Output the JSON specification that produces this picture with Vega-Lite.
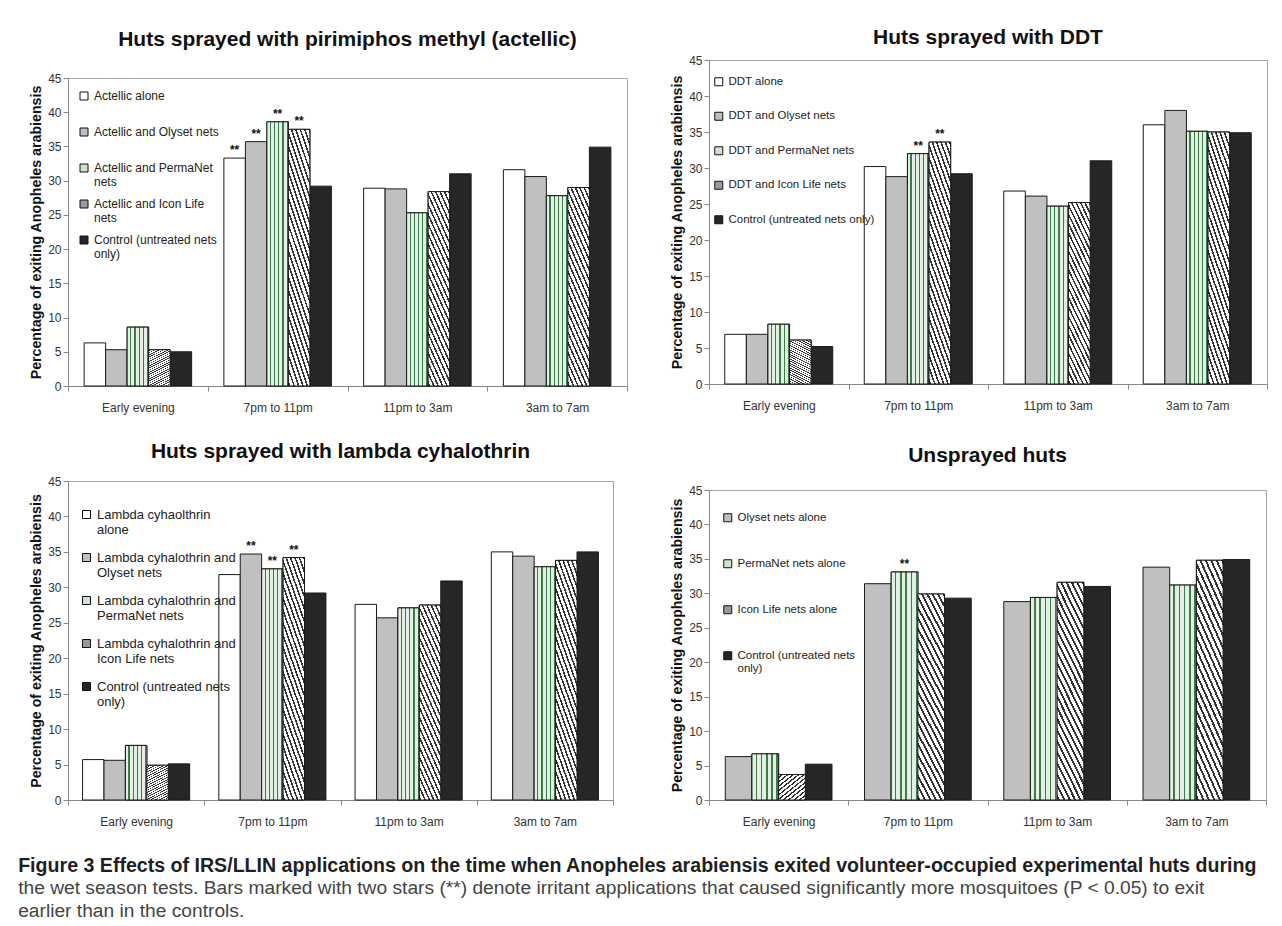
{
  "$schema": "https://vega.github.io/schema/vega-lite/v6.json",
  "padding": {"left": 18, "top": 26, "right": 4, "bottom": 2},
  "background": "white",
  "config": {
    "font": "Liberation Sans",
    "view": {"stroke": "#a6a6a6", "strokeWidth": 1},
    "title": {"fontSize": 21, "fontWeight": "bold", "color": "#111111", "anchor": "middle"},
    "axis": {"grid": false, "domainColor": "#888888", "tickColor": "#888888", "tickSize": 5, "labelColor": "#333333", "labelFontSize": 12, "titleFontSize": 14.2, "titleColor": "#111111", "titleFontWeight": "bold"},
    "axisY": {"labelPadding": 2, "titlePadding": 4},
    "axisX": {"labelPadding": 11, "labelAngle": 0},
    "legend": {"padding": 0, "symbolType": "square", "symbolSize": 64, "symbolStrokeColor": "#111111", "symbolStrokeWidth": 1, "labelFontSize": 12, "labelColor": "#222222", "labelOffset": 4, "labelLimit": 400, "gridAlign": "all"},
    "bar": {"stroke": "#1a1a1a", "strokeWidth": 1}
  },
  "datasets": {
    "p1": [
      {"period": "Early evening", "treatment": "Actellic alone", "pct": 6.3},
      {"period": "Early evening", "treatment": "Actellic and Olyset nets", "pct": 5.3},
      {"period": "Early evening", "treatment": "Actellic and PermaNet nets", "pct": 8.6},
      {"period": "Early evening", "treatment": "Actellic and Icon Life nets", "pct": 5.3},
      {"period": "Early evening", "treatment": "Control (untreated nets only)", "pct": 5.0},
      {"period": "7pm to 11pm", "treatment": "Actellic alone", "pct": 33.3, "sig": "**"},
      {"period": "7pm to 11pm", "treatment": "Actellic and Olyset nets", "pct": 35.7, "sig": "**"},
      {"period": "7pm to 11pm", "treatment": "Actellic and PermaNet nets", "pct": 38.6, "sig": "**"},
      {"period": "7pm to 11pm", "treatment": "Actellic and Icon Life nets", "pct": 37.5, "sig": "**"},
      {"period": "7pm to 11pm", "treatment": "Control (untreated nets only)", "pct": 29.2},
      {"period": "11pm to 3am", "treatment": "Actellic alone", "pct": 28.9},
      {"period": "11pm to 3am", "treatment": "Actellic and Olyset nets", "pct": 28.8},
      {"period": "11pm to 3am", "treatment": "Actellic and PermaNet nets", "pct": 25.3},
      {"period": "11pm to 3am", "treatment": "Actellic and Icon Life nets", "pct": 28.4},
      {"period": "11pm to 3am", "treatment": "Control (untreated nets only)", "pct": 31.0},
      {"period": "3am to 7am", "treatment": "Actellic alone", "pct": 31.6},
      {"period": "3am to 7am", "treatment": "Actellic and Olyset nets", "pct": 30.6},
      {"period": "3am to 7am", "treatment": "Actellic and PermaNet nets", "pct": 27.8},
      {"period": "3am to 7am", "treatment": "Actellic and Icon Life nets", "pct": 29.0},
      {"period": "3am to 7am", "treatment": "Control (untreated nets only)", "pct": 34.9}
    ],
    "p2": [
      {"period": "Early evening", "treatment": "DDT alone", "pct": 6.9},
      {"period": "Early evening", "treatment": "DDT and Olyset nets", "pct": 6.9},
      {"period": "Early evening", "treatment": "DDT and PermaNet nets", "pct": 8.3},
      {"period": "Early evening", "treatment": "DDT and Icon Life nets", "pct": 6.1},
      {"period": "Early evening", "treatment": "Control (untreated nets only)", "pct": 5.2},
      {"period": "7pm to 11pm", "treatment": "DDT alone", "pct": 30.2},
      {"period": "7pm to 11pm", "treatment": "DDT and Olyset nets", "pct": 28.8},
      {"period": "7pm to 11pm", "treatment": "DDT and PermaNet nets", "pct": 32.0, "sig": "**"},
      {"period": "7pm to 11pm", "treatment": "DDT and Icon Life nets", "pct": 33.6, "sig": "**"},
      {"period": "7pm to 11pm", "treatment": "Control (untreated nets only)", "pct": 29.2},
      {"period": "11pm to 3am", "treatment": "DDT alone", "pct": 26.8},
      {"period": "11pm to 3am", "treatment": "DDT and Olyset nets", "pct": 26.1},
      {"period": "11pm to 3am", "treatment": "DDT and PermaNet nets", "pct": 24.7},
      {"period": "11pm to 3am", "treatment": "DDT and Icon Life nets", "pct": 25.2},
      {"period": "11pm to 3am", "treatment": "Control (untreated nets only)", "pct": 31.0},
      {"period": "3am to 7am", "treatment": "DDT alone", "pct": 36.0},
      {"period": "3am to 7am", "treatment": "DDT and Olyset nets", "pct": 38.0},
      {"period": "3am to 7am", "treatment": "DDT and PermaNet nets", "pct": 35.1},
      {"period": "3am to 7am", "treatment": "DDT and Icon Life nets", "pct": 35.0},
      {"period": "3am to 7am", "treatment": "Control (untreated nets only)", "pct": 34.9}
    ],
    "p3": [
      {"period": "Early evening", "treatment": "Lambda cyhaolthrin alone", "pct": 5.7},
      {"period": "Early evening", "treatment": "Lambda cyhalothrin and Olyset nets", "pct": 5.6},
      {"period": "Early evening", "treatment": "Lambda cyhalothrin and PermaNet nets", "pct": 7.7},
      {"period": "Early evening", "treatment": "Lambda cyhalothrin and Icon Life nets", "pct": 4.9},
      {"period": "Early evening", "treatment": "Control (untreated nets only)", "pct": 5.1},
      {"period": "7pm to 11pm", "treatment": "Lambda cyhaolthrin alone", "pct": 31.8},
      {"period": "7pm to 11pm", "treatment": "Lambda cyhalothrin and Olyset nets", "pct": 34.7, "sig": "**"},
      {"period": "7pm to 11pm", "treatment": "Lambda cyhalothrin and PermaNet nets", "pct": 32.6, "sig": "**"},
      {"period": "7pm to 11pm", "treatment": "Lambda cyhalothrin and Icon Life nets", "pct": 34.2, "sig": "**"},
      {"period": "7pm to 11pm", "treatment": "Control (untreated nets only)", "pct": 29.2},
      {"period": "11pm to 3am", "treatment": "Lambda cyhaolthrin alone", "pct": 27.6},
      {"period": "11pm to 3am", "treatment": "Lambda cyhalothrin and Olyset nets", "pct": 25.7},
      {"period": "11pm to 3am", "treatment": "Lambda cyhalothrin and PermaNet nets", "pct": 27.1},
      {"period": "11pm to 3am", "treatment": "Lambda cyhalothrin and Icon Life nets", "pct": 27.5},
      {"period": "11pm to 3am", "treatment": "Control (untreated nets only)", "pct": 30.9},
      {"period": "3am to 7am", "treatment": "Lambda cyhaolthrin alone", "pct": 35.0},
      {"period": "3am to 7am", "treatment": "Lambda cyhalothrin and Olyset nets", "pct": 34.4},
      {"period": "3am to 7am", "treatment": "Lambda cyhalothrin and PermaNet nets", "pct": 32.9},
      {"period": "3am to 7am", "treatment": "Lambda cyhalothrin and Icon Life nets", "pct": 33.8},
      {"period": "3am to 7am", "treatment": "Control (untreated nets only)", "pct": 35.0}
    ],
    "p4": [
      {"period": "Early evening", "treatment": "Olyset nets alone", "pct": 6.3},
      {"period": "Early evening", "treatment": "PermaNet nets alone", "pct": 6.7},
      {"period": "Early evening", "treatment": "Icon Life nets alone", "pct": 3.7},
      {"period": "Early evening", "treatment": "Control (untreated nets only)", "pct": 5.2},
      {"period": "7pm to 11pm", "treatment": "Olyset nets alone", "pct": 31.4},
      {"period": "7pm to 11pm", "treatment": "PermaNet nets alone", "pct": 33.1, "sig": "**"},
      {"period": "7pm to 11pm", "treatment": "Icon Life nets alone", "pct": 29.9},
      {"period": "7pm to 11pm", "treatment": "Control (untreated nets only)", "pct": 29.3},
      {"period": "11pm to 3am", "treatment": "Olyset nets alone", "pct": 28.8},
      {"period": "11pm to 3am", "treatment": "PermaNet nets alone", "pct": 29.4},
      {"period": "11pm to 3am", "treatment": "Icon Life nets alone", "pct": 31.6},
      {"period": "11pm to 3am", "treatment": "Control (untreated nets only)", "pct": 31.0},
      {"period": "3am to 7am", "treatment": "Olyset nets alone", "pct": 33.8},
      {"period": "3am to 7am", "treatment": "PermaNet nets alone", "pct": 31.2},
      {"period": "3am to 7am", "treatment": "Icon Life nets alone", "pct": 34.8},
      {"period": "3am to 7am", "treatment": "Control (untreated nets only)", "pct": 34.9}
    ]
  },
  "title": {
    "text": "Figure 3 Effects of IRS/LLIN applications on the time when Anopheles arabiensis exited volunteer-occupied experimental huts during",
    "subtitle": ["the wet season tests. Bars marked with two stars (**) denote irritant applications that caused significantly more mosquitoes (P < 0.05) to exit", "earlier than in the controls."],
    "orient": "bottom", "anchor": "start", "dx": -11, "offset": 29,
    "font": "Liberation Sans", "fontSize": 19.6, "fontWeight": "bold", "color": "#1f1f1f",
    "subtitleFont": "Liberation Sans", "subtitleFontSize": 19.2, "subtitleColor": "#444444", "subtitleLineHeight": 23, "subtitlePadding": 3
  },
  "spacing": 42,
  "resolve": {"scale": {"x": "independent", "y": "independent", "xOffset": "independent", "fill": "independent"}, "legend": {"fill": "independent"}},
  "hconcat": [
    {
      "spacing": 26,
      "resolve": {"scale": {"x": "independent", "y": "independent", "xOffset": "independent", "fill": "independent"}, "legend": {"fill": "independent"}},
      "vconcat": [
        {
          "spacing": 2,
          "resolve": {"scale": {"x": "independent", "y": "independent", "xOffset": "independent", "fill": "independent"}, "legend": {"fill": "independent"}},
          "vconcat": [
            {
              "width": 559, "height": 8,
              "title": {"text": "Huts sprayed with pirimiphos methyl (actellic)", "offset": 8},
              "data": {"values": [{"blank": ""}]},
              "mark": {"type": "text"},
              "encoding": {"text": {"field": "blank"}},
              "view": {"stroke": null}
            },
            {
              "width": 559, "height": 308,
              "data": {"name": "p1"},
              "encoding": {
                "x": {"field": "period", "type": "nominal", "sort": ["Early evening", "7pm to 11pm", "11pm to 3am", "3am to 7am"], "scale": {"paddingInner": 0, "paddingOuter": 0}, "axis": {"title": null, "tickBand": "extent"}},
                "xOffset": {"field": "treatment", "type": "nominal", "scale": {"domain": ["Actellic alone", "Actellic and Olyset nets", "Actellic and PermaNet nets", "Actellic and Icon Life nets", "Control (untreated nets only)"], "paddingInner": 0, "paddingOuter": 0.75}},
                "y": {"field": "pct", "type": "quantitative", "scale": {"domain": [0, 45], "nice": false}, "axis": {"title": "Percentage of exiting Anopheles arabiensis", "values": [0, 5, 10, 15, 20, 25, 30, 35, 40, 45]}}
              },
              "layer": [
                {"mark": {"type": "bar"}, "encoding": {"fill": {"field": "treatment", "type": "nominal", "scale": {"domain": ["Actellic alone", "Actellic and Olyset nets", "Actellic and PermaNet nets", "Actellic and Icon Life nets", "Control (untreated nets only)"], "range": ["#ffffff", "#c0c0c0", "#cfe3cf", "#9a9a9a", "#262626"]}, "legend": {"title": null, "orient": "none", "legendX": 10, "legendY": 12, "rowPadding": 10, "labelExpr": "datum.label == 'Actellic and PermaNet nets' ? ['Actellic and PermaNet', 'nets'] : datum.label == 'Actellic and Icon Life nets' ? ['Actellic and Icon Life', 'nets'] : datum.label == 'Control (untreated nets only)' ? ['Control (untreated nets', 'only)'] : datum.label", "encode": {"labels": {"update": {"lineHeight": {"value": 15}}}}}}}},
                {"transform": [{"filter": "indexof(datum.treatment, 'PermaNet') >= 0"}], "mark": {"type": "bar", "fill": {"gradient": "linear", "x1": 0, "y1": 0, "x2": 1, "y2": 0, "stops": [
                  {"offset": 0, "color": "#e4efe4"}, {"offset": 0.14, "color": "#e4efe4"}, {"offset": 0.14, "color": "#3d7c48"}, {"offset": 0.195, "color": "#3d7c48"},
                  {"offset": 0.195, "color": "#e4efe4"}, {"offset": 0.335, "color": "#e4efe4"}, {"offset": 0.335, "color": "#3d7c48"}, {"offset": 0.39, "color": "#3d7c48"},
                  {"offset": 0.39, "color": "#e4efe4"}, {"offset": 0.53, "color": "#e4efe4"}, {"offset": 0.53, "color": "#3d7c48"}, {"offset": 0.585, "color": "#3d7c48"},
                  {"offset": 0.585, "color": "#e4efe4"}, {"offset": 0.725, "color": "#e4efe4"}, {"offset": 0.725, "color": "#3d7c48"}, {"offset": 0.78, "color": "#3d7c48"},
                  {"offset": 0.78, "color": "#e4efe4"}, {"offset": 0.92, "color": "#e4efe4"}, {"offset": 0.92, "color": "#3d7c48"}, {"offset": 0.975, "color": "#3d7c48"},
                  {"offset": 0.975, "color": "#e4efe4"}, {"offset": 1, "color": "#e4efe4"}]}}},
                {"transform": [{"filter": "indexof(datum.treatment, 'Icon Life') >= 0"}], "mark": {"type": "bar", "fill": {"gradient": "linear", "x1": 0, "y1": 4, "x2": 1, "y2": 0, "stops": [
                  {"offset": 0, "color": "#ffffff"},
                  {"offset": 0.7075, "color": "#ffffff"}, {"offset": 0.7075, "color": "#333333"}, {"offset": 0.712, "color": "#333333"}, {"offset": 0.712, "color": "#ffffff"},
                  {"offset": 0.7195, "color": "#ffffff"}, {"offset": 0.7195, "color": "#333333"}, {"offset": 0.724, "color": "#333333"}, {"offset": 0.724, "color": "#ffffff"},
                  {"offset": 0.7315, "color": "#ffffff"}, {"offset": 0.7315, "color": "#333333"}, {"offset": 0.736, "color": "#333333"}, {"offset": 0.736, "color": "#ffffff"},
                  {"offset": 0.7435, "color": "#ffffff"}, {"offset": 0.7435, "color": "#333333"}, {"offset": 0.748, "color": "#333333"}, {"offset": 0.748, "color": "#ffffff"},
                  {"offset": 0.7555, "color": "#ffffff"}, {"offset": 0.7555, "color": "#333333"}, {"offset": 0.76, "color": "#333333"}, {"offset": 0.76, "color": "#ffffff"},
                  {"offset": 0.7675, "color": "#ffffff"}, {"offset": 0.7675, "color": "#333333"}, {"offset": 0.772, "color": "#333333"}, {"offset": 0.772, "color": "#ffffff"},
                  {"offset": 0.7795, "color": "#ffffff"}, {"offset": 0.7795, "color": "#333333"}, {"offset": 0.784, "color": "#333333"}, {"offset": 0.784, "color": "#ffffff"},
                  {"offset": 0.7915, "color": "#ffffff"}, {"offset": 0.7915, "color": "#333333"}, {"offset": 0.796, "color": "#333333"}, {"offset": 0.796, "color": "#ffffff"},
                  {"offset": 0.8035, "color": "#ffffff"}, {"offset": 0.8035, "color": "#333333"}, {"offset": 0.808, "color": "#333333"}, {"offset": 0.808, "color": "#ffffff"},
                  {"offset": 0.8155, "color": "#ffffff"}, {"offset": 0.8155, "color": "#333333"}, {"offset": 0.82, "color": "#333333"}, {"offset": 0.82, "color": "#ffffff"},
                  {"offset": 0.8275, "color": "#ffffff"}, {"offset": 0.8275, "color": "#333333"}, {"offset": 0.832, "color": "#333333"}, {"offset": 0.832, "color": "#ffffff"},
                  {"offset": 0.8395, "color": "#ffffff"}, {"offset": 0.8395, "color": "#333333"}, {"offset": 0.844, "color": "#333333"}, {"offset": 0.844, "color": "#ffffff"},
                  {"offset": 0.8515, "color": "#ffffff"}, {"offset": 0.8515, "color": "#333333"}, {"offset": 0.856, "color": "#333333"}, {"offset": 0.856, "color": "#ffffff"},
                  {"offset": 0.8635, "color": "#ffffff"}, {"offset": 0.8635, "color": "#333333"}, {"offset": 0.868, "color": "#333333"}, {"offset": 0.868, "color": "#ffffff"},
                  {"offset": 0.8755, "color": "#ffffff"}, {"offset": 0.8755, "color": "#333333"}, {"offset": 0.88, "color": "#333333"}, {"offset": 0.88, "color": "#ffffff"},
                  {"offset": 0.8875, "color": "#ffffff"}, {"offset": 0.8875, "color": "#333333"}, {"offset": 0.892, "color": "#333333"}, {"offset": 0.892, "color": "#ffffff"},
                  {"offset": 0.8995, "color": "#ffffff"}, {"offset": 0.8995, "color": "#333333"}, {"offset": 0.904, "color": "#333333"}, {"offset": 0.904, "color": "#ffffff"},
                  {"offset": 0.9115, "color": "#ffffff"}, {"offset": 0.9115, "color": "#333333"}, {"offset": 0.916, "color": "#333333"}, {"offset": 0.916, "color": "#ffffff"},
                  {"offset": 0.9235, "color": "#ffffff"}, {"offset": 0.9235, "color": "#333333"}, {"offset": 0.928, "color": "#333333"}, {"offset": 0.928, "color": "#ffffff"},
                  {"offset": 0.9355, "color": "#ffffff"}, {"offset": 0.9355, "color": "#333333"}, {"offset": 0.94, "color": "#333333"}, {"offset": 0.94, "color": "#ffffff"},
                  {"offset": 0.9475, "color": "#ffffff"}, {"offset": 0.9475, "color": "#333333"}, {"offset": 0.952, "color": "#333333"}, {"offset": 0.952, "color": "#ffffff"},
                  {"offset": 0.9595, "color": "#ffffff"}, {"offset": 0.9595, "color": "#333333"}, {"offset": 0.964, "color": "#333333"}, {"offset": 0.964, "color": "#ffffff"},
                  {"offset": 0.9715, "color": "#ffffff"}, {"offset": 0.9715, "color": "#333333"}, {"offset": 0.976, "color": "#333333"}, {"offset": 0.976, "color": "#ffffff"},
                  {"offset": 0.9835, "color": "#ffffff"}, {"offset": 0.9835, "color": "#333333"}, {"offset": 0.988, "color": "#333333"}, {"offset": 0.988, "color": "#ffffff"},
                  {"offset": 0.9955, "color": "#ffffff"}, {"offset": 0.9955, "color": "#333333"}, {"offset": 1, "color": "#333333"}]}}},
                {"transform": [{"filter": "datum.sig == '**'"}], "mark": {"type": "text", "baseline": "bottom", "dy": -1, "fontSize": 12, "fontWeight": "bold", "color": "#111111"}, "encoding": {"text": {"field": "sig"}}}
              ]
            }
          ]
        },
        {
          "width": 545, "height": 319,
          "title": {"text": "Huts sprayed with lambda cyhalothrin", "offset": 13},
          "data": {"name": "p3"},
          "encoding": {
            "x": {"field": "period", "type": "nominal", "sort": ["Early evening", "7pm to 11pm", "11pm to 3am", "3am to 7am"], "scale": {"paddingInner": 0, "paddingOuter": 0}, "axis": {"title": null, "tickBand": "extent"}},
            "xOffset": {"field": "treatment", "type": "nominal", "scale": {"domain": ["Lambda cyhaolthrin alone", "Lambda cyhalothrin and Olyset nets", "Lambda cyhalothrin and PermaNet nets", "Lambda cyhalothrin and Icon Life nets", "Control (untreated nets only)"], "paddingInner": 0, "paddingOuter": 0.68}},
            "y": {"field": "pct", "type": "quantitative", "scale": {"domain": [0, 45], "nice": false}, "axis": {"title": "Percentage of exiting Anopheles arabiensis", "values": [0, 5, 10, 15, 20, 25, 30, 35, 40, 45]}}
          },
          "layer": [
            {"mark": {"type": "bar"}, "encoding": {"fill": {"field": "treatment", "type": "nominal", "scale": {"domain": ["Lambda cyhaolthrin alone", "Lambda cyhalothrin and Olyset nets", "Lambda cyhalothrin and PermaNet nets", "Lambda cyhalothrin and Icon Life nets", "Control (untreated nets only)"], "range": ["#ffffff", "#c0c0c0", "#cfe3cf", "#9a9a9a", "#262626"]}, "legend": {"title": null, "orient": "none", "legendX": 12, "legendY": 27, "rowPadding": 14, "labelFontSize": 13, "labelExpr": "datum.label == 'Lambda cyhaolthrin alone' ? ['Lambda cyhaolthrin', 'alone'] : datum.label == 'Control (untreated nets only)' ? ['Control (untreated nets', 'only)'] : [slice(datum.label, 0, 22), slice(datum.label, 23)]", "encode": {"labels": {"update": {"lineHeight": {"value": 16}}}}}}}},
            {"transform": [{"filter": "indexof(datum.treatment, 'PermaNet') >= 0"}], "mark": {"type": "bar", "fill": {"gradient": "linear", "x1": 0, "y1": 0, "x2": 1, "y2": 0, "stops": [
              {"offset": 0, "color": "#e4efe4"}, {"offset": 0.14, "color": "#e4efe4"}, {"offset": 0.14, "color": "#3d7c48"}, {"offset": 0.195, "color": "#3d7c48"},
              {"offset": 0.195, "color": "#e4efe4"}, {"offset": 0.335, "color": "#e4efe4"}, {"offset": 0.335, "color": "#3d7c48"}, {"offset": 0.39, "color": "#3d7c48"},
              {"offset": 0.39, "color": "#e4efe4"}, {"offset": 0.53, "color": "#e4efe4"}, {"offset": 0.53, "color": "#3d7c48"}, {"offset": 0.585, "color": "#3d7c48"},
              {"offset": 0.585, "color": "#e4efe4"}, {"offset": 0.725, "color": "#e4efe4"}, {"offset": 0.725, "color": "#3d7c48"}, {"offset": 0.78, "color": "#3d7c48"},
              {"offset": 0.78, "color": "#e4efe4"}, {"offset": 0.92, "color": "#e4efe4"}, {"offset": 0.92, "color": "#3d7c48"}, {"offset": 0.975, "color": "#3d7c48"},
              {"offset": 0.975, "color": "#e4efe4"}, {"offset": 1, "color": "#e4efe4"}]}}},
            {"transform": [{"filter": "indexof(datum.treatment, 'Icon Life') >= 0"}], "mark": {"type": "bar", "fill": {"gradient": "linear", "x1": 0, "y1": 4, "x2": 1, "y2": 0, "stops": [
              {"offset": 0, "color": "#ffffff"},
              {"offset": 0.7075, "color": "#ffffff"}, {"offset": 0.7075, "color": "#333333"}, {"offset": 0.712, "color": "#333333"}, {"offset": 0.712, "color": "#ffffff"},
              {"offset": 0.7195, "color": "#ffffff"}, {"offset": 0.7195, "color": "#333333"}, {"offset": 0.724, "color": "#333333"}, {"offset": 0.724, "color": "#ffffff"},
              {"offset": 0.7315, "color": "#ffffff"}, {"offset": 0.7315, "color": "#333333"}, {"offset": 0.736, "color": "#333333"}, {"offset": 0.736, "color": "#ffffff"},
              {"offset": 0.7435, "color": "#ffffff"}, {"offset": 0.7435, "color": "#333333"}, {"offset": 0.748, "color": "#333333"}, {"offset": 0.748, "color": "#ffffff"},
              {"offset": 0.7555, "color": "#ffffff"}, {"offset": 0.7555, "color": "#333333"}, {"offset": 0.76, "color": "#333333"}, {"offset": 0.76, "color": "#ffffff"},
              {"offset": 0.7675, "color": "#ffffff"}, {"offset": 0.7675, "color": "#333333"}, {"offset": 0.772, "color": "#333333"}, {"offset": 0.772, "color": "#ffffff"},
              {"offset": 0.7795, "color": "#ffffff"}, {"offset": 0.7795, "color": "#333333"}, {"offset": 0.784, "color": "#333333"}, {"offset": 0.784, "color": "#ffffff"},
              {"offset": 0.7915, "color": "#ffffff"}, {"offset": 0.7915, "color": "#333333"}, {"offset": 0.796, "color": "#333333"}, {"offset": 0.796, "color": "#ffffff"},
              {"offset": 0.8035, "color": "#ffffff"}, {"offset": 0.8035, "color": "#333333"}, {"offset": 0.808, "color": "#333333"}, {"offset": 0.808, "color": "#ffffff"},
              {"offset": 0.8155, "color": "#ffffff"}, {"offset": 0.8155, "color": "#333333"}, {"offset": 0.82, "color": "#333333"}, {"offset": 0.82, "color": "#ffffff"},
              {"offset": 0.8275, "color": "#ffffff"}, {"offset": 0.8275, "color": "#333333"}, {"offset": 0.832, "color": "#333333"}, {"offset": 0.832, "color": "#ffffff"},
              {"offset": 0.8395, "color": "#ffffff"}, {"offset": 0.8395, "color": "#333333"}, {"offset": 0.844, "color": "#333333"}, {"offset": 0.844, "color": "#ffffff"},
              {"offset": 0.8515, "color": "#ffffff"}, {"offset": 0.8515, "color": "#333333"}, {"offset": 0.856, "color": "#333333"}, {"offset": 0.856, "color": "#ffffff"},
              {"offset": 0.8635, "color": "#ffffff"}, {"offset": 0.8635, "color": "#333333"}, {"offset": 0.868, "color": "#333333"}, {"offset": 0.868, "color": "#ffffff"},
              {"offset": 0.8755, "color": "#ffffff"}, {"offset": 0.8755, "color": "#333333"}, {"offset": 0.88, "color": "#333333"}, {"offset": 0.88, "color": "#ffffff"},
              {"offset": 0.8875, "color": "#ffffff"}, {"offset": 0.8875, "color": "#333333"}, {"offset": 0.892, "color": "#333333"}, {"offset": 0.892, "color": "#ffffff"},
              {"offset": 0.8995, "color": "#ffffff"}, {"offset": 0.8995, "color": "#333333"}, {"offset": 0.904, "color": "#333333"}, {"offset": 0.904, "color": "#ffffff"},
              {"offset": 0.9115, "color": "#ffffff"}, {"offset": 0.9115, "color": "#333333"}, {"offset": 0.916, "color": "#333333"}, {"offset": 0.916, "color": "#ffffff"},
              {"offset": 0.9235, "color": "#ffffff"}, {"offset": 0.9235, "color": "#333333"}, {"offset": 0.928, "color": "#333333"}, {"offset": 0.928, "color": "#ffffff"},
              {"offset": 0.9355, "color": "#ffffff"}, {"offset": 0.9355, "color": "#333333"}, {"offset": 0.94, "color": "#333333"}, {"offset": 0.94, "color": "#ffffff"},
              {"offset": 0.9475, "color": "#ffffff"}, {"offset": 0.9475, "color": "#333333"}, {"offset": 0.952, "color": "#333333"}, {"offset": 0.952, "color": "#ffffff"},
              {"offset": 0.9595, "color": "#ffffff"}, {"offset": 0.9595, "color": "#333333"}, {"offset": 0.964, "color": "#333333"}, {"offset": 0.964, "color": "#ffffff"},
              {"offset": 0.9715, "color": "#ffffff"}, {"offset": 0.9715, "color": "#333333"}, {"offset": 0.976, "color": "#333333"}, {"offset": 0.976, "color": "#ffffff"},
              {"offset": 0.9835, "color": "#ffffff"}, {"offset": 0.9835, "color": "#333333"}, {"offset": 0.988, "color": "#333333"}, {"offset": 0.988, "color": "#ffffff"},
              {"offset": 0.9955, "color": "#ffffff"}, {"offset": 0.9955, "color": "#333333"}, {"offset": 1, "color": "#333333"}]}}},
            {"transform": [{"filter": "datum.sig == '**'"}], "mark": {"type": "text", "baseline": "bottom", "dy": -1, "fontSize": 12, "fontWeight": "bold", "color": "#111111"}, "encoding": {"text": {"field": "sig"}}}
          ]
        }
      ]
    },
    {
      "spacing": 32,
      "resolve": {"scale": {"x": "independent", "y": "independent", "xOffset": "independent", "fill": "independent"}, "legend": {"fill": "independent"}},
      "vconcat": [
        {
          "width": 558, "height": 324,
          "title": {"text": "Huts sprayed with DDT", "offset": 6},
          "data": {"name": "p2"},
          "encoding": {
            "x": {"field": "period", "type": "nominal", "sort": ["Early evening", "7pm to 11pm", "11pm to 3am", "3am to 7am"], "scale": {"paddingInner": 0, "paddingOuter": 0}, "axis": {"title": null, "tickBand": "extent"}},
            "xOffset": {"field": "treatment", "type": "nominal", "scale": {"domain": ["DDT alone", "DDT and Olyset nets", "DDT and PermaNet nets", "DDT and Icon Life nets", "Control (untreated nets only)"], "paddingInner": 0, "paddingOuter": 0.73}},
            "y": {"field": "pct", "type": "quantitative", "scale": {"domain": [0, 45], "nice": false}, "axis": {"title": "Percentage of exiting Anopheles arabiensis", "values": [0, 5, 10, 15, 20, 25, 30, 35, 40, 45]}}
          },
          "layer": [
            {"mark": {"type": "bar"}, "encoding": {"fill": {"field": "treatment", "type": "nominal", "scale": {"domain": ["DDT alone", "DDT and Olyset nets", "DDT and PermaNet nets", "DDT and Icon Life nets", "Control (untreated nets only)"], "range": ["#ffffff", "#c0c0c0", "#cfe3cf", "#9a9a9a", "#262626"]}, "legend": {"title": null, "orient": "none", "legendX": 4, "legendY": 16, "rowPadding": 21.5, "labelFontSize": 11.5}}}},
            {"transform": [{"filter": "indexof(datum.treatment, 'PermaNet') >= 0"}], "mark": {"type": "bar", "fill": {"gradient": "linear", "x1": 0, "y1": 0, "x2": 1, "y2": 0, "stops": [
              {"offset": 0, "color": "#e4efe4"}, {"offset": 0.14, "color": "#e4efe4"}, {"offset": 0.14, "color": "#3d7c48"}, {"offset": 0.195, "color": "#3d7c48"},
              {"offset": 0.195, "color": "#e4efe4"}, {"offset": 0.335, "color": "#e4efe4"}, {"offset": 0.335, "color": "#3d7c48"}, {"offset": 0.39, "color": "#3d7c48"},
              {"offset": 0.39, "color": "#e4efe4"}, {"offset": 0.53, "color": "#e4efe4"}, {"offset": 0.53, "color": "#3d7c48"}, {"offset": 0.585, "color": "#3d7c48"},
              {"offset": 0.585, "color": "#e4efe4"}, {"offset": 0.725, "color": "#e4efe4"}, {"offset": 0.725, "color": "#3d7c48"}, {"offset": 0.78, "color": "#3d7c48"},
              {"offset": 0.78, "color": "#e4efe4"}, {"offset": 0.92, "color": "#e4efe4"}, {"offset": 0.92, "color": "#3d7c48"}, {"offset": 0.975, "color": "#3d7c48"},
              {"offset": 0.975, "color": "#e4efe4"}, {"offset": 1, "color": "#e4efe4"}]}}},
            {"transform": [{"filter": "indexof(datum.treatment, 'Icon Life') >= 0"}], "mark": {"type": "bar", "fill": {"gradient": "linear", "x1": 0, "y1": 4, "x2": 1, "y2": 0, "stops": [
              {"offset": 0, "color": "#ffffff"},
              {"offset": 0.7075, "color": "#ffffff"}, {"offset": 0.7075, "color": "#333333"}, {"offset": 0.712, "color": "#333333"}, {"offset": 0.712, "color": "#ffffff"},
              {"offset": 0.7195, "color": "#ffffff"}, {"offset": 0.7195, "color": "#333333"}, {"offset": 0.724, "color": "#333333"}, {"offset": 0.724, "color": "#ffffff"},
              {"offset": 0.7315, "color": "#ffffff"}, {"offset": 0.7315, "color": "#333333"}, {"offset": 0.736, "color": "#333333"}, {"offset": 0.736, "color": "#ffffff"},
              {"offset": 0.7435, "color": "#ffffff"}, {"offset": 0.7435, "color": "#333333"}, {"offset": 0.748, "color": "#333333"}, {"offset": 0.748, "color": "#ffffff"},
              {"offset": 0.7555, "color": "#ffffff"}, {"offset": 0.7555, "color": "#333333"}, {"offset": 0.76, "color": "#333333"}, {"offset": 0.76, "color": "#ffffff"},
              {"offset": 0.7675, "color": "#ffffff"}, {"offset": 0.7675, "color": "#333333"}, {"offset": 0.772, "color": "#333333"}, {"offset": 0.772, "color": "#ffffff"},
              {"offset": 0.7795, "color": "#ffffff"}, {"offset": 0.7795, "color": "#333333"}, {"offset": 0.784, "color": "#333333"}, {"offset": 0.784, "color": "#ffffff"},
              {"offset": 0.7915, "color": "#ffffff"}, {"offset": 0.7915, "color": "#333333"}, {"offset": 0.796, "color": "#333333"}, {"offset": 0.796, "color": "#ffffff"},
              {"offset": 0.8035, "color": "#ffffff"}, {"offset": 0.8035, "color": "#333333"}, {"offset": 0.808, "color": "#333333"}, {"offset": 0.808, "color": "#ffffff"},
              {"offset": 0.8155, "color": "#ffffff"}, {"offset": 0.8155, "color": "#333333"}, {"offset": 0.82, "color": "#333333"}, {"offset": 0.82, "color": "#ffffff"},
              {"offset": 0.8275, "color": "#ffffff"}, {"offset": 0.8275, "color": "#333333"}, {"offset": 0.832, "color": "#333333"}, {"offset": 0.832, "color": "#ffffff"},
              {"offset": 0.8395, "color": "#ffffff"}, {"offset": 0.8395, "color": "#333333"}, {"offset": 0.844, "color": "#333333"}, {"offset": 0.844, "color": "#ffffff"},
              {"offset": 0.8515, "color": "#ffffff"}, {"offset": 0.8515, "color": "#333333"}, {"offset": 0.856, "color": "#333333"}, {"offset": 0.856, "color": "#ffffff"},
              {"offset": 0.8635, "color": "#ffffff"}, {"offset": 0.8635, "color": "#333333"}, {"offset": 0.868, "color": "#333333"}, {"offset": 0.868, "color": "#ffffff"},
              {"offset": 0.8755, "color": "#ffffff"}, {"offset": 0.8755, "color": "#333333"}, {"offset": 0.88, "color": "#333333"}, {"offset": 0.88, "color": "#ffffff"},
              {"offset": 0.8875, "color": "#ffffff"}, {"offset": 0.8875, "color": "#333333"}, {"offset": 0.892, "color": "#333333"}, {"offset": 0.892, "color": "#ffffff"},
              {"offset": 0.8995, "color": "#ffffff"}, {"offset": 0.8995, "color": "#333333"}, {"offset": 0.904, "color": "#333333"}, {"offset": 0.904, "color": "#ffffff"},
              {"offset": 0.9115, "color": "#ffffff"}, {"offset": 0.9115, "color": "#333333"}, {"offset": 0.916, "color": "#333333"}, {"offset": 0.916, "color": "#ffffff"},
              {"offset": 0.9235, "color": "#ffffff"}, {"offset": 0.9235, "color": "#333333"}, {"offset": 0.928, "color": "#333333"}, {"offset": 0.928, "color": "#ffffff"},
              {"offset": 0.9355, "color": "#ffffff"}, {"offset": 0.9355, "color": "#333333"}, {"offset": 0.94, "color": "#333333"}, {"offset": 0.94, "color": "#ffffff"},
              {"offset": 0.9475, "color": "#ffffff"}, {"offset": 0.9475, "color": "#333333"}, {"offset": 0.952, "color": "#333333"}, {"offset": 0.952, "color": "#ffffff"},
              {"offset": 0.9595, "color": "#ffffff"}, {"offset": 0.9595, "color": "#333333"}, {"offset": 0.964, "color": "#333333"}, {"offset": 0.964, "color": "#ffffff"},
              {"offset": 0.9715, "color": "#ffffff"}, {"offset": 0.9715, "color": "#333333"}, {"offset": 0.976, "color": "#333333"}, {"offset": 0.976, "color": "#ffffff"},
              {"offset": 0.9835, "color": "#ffffff"}, {"offset": 0.9835, "color": "#333333"}, {"offset": 0.988, "color": "#333333"}, {"offset": 0.988, "color": "#ffffff"},
              {"offset": 0.9955, "color": "#ffffff"}, {"offset": 0.9955, "color": "#333333"}, {"offset": 1, "color": "#333333"}]}}},
            {"transform": [{"filter": "datum.sig == '**'"}], "mark": {"type": "text", "baseline": "bottom", "dy": -1, "fontSize": 12, "fontWeight": "bold", "color": "#111111"}, "encoding": {"text": {"field": "sig"}}}
          ]
        },
        {
          "width": 557, "height": 310,
          "title": {"text": "Unsprayed huts", "offset": 18},
          "data": {"name": "p4"},
          "encoding": {
            "x": {"field": "period", "type": "nominal", "sort": ["Early evening", "7pm to 11pm", "11pm to 3am", "3am to 7am"], "scale": {"paddingInner": 0, "paddingOuter": 0}, "axis": {"title": null, "tickBand": "extent"}},
            "xOffset": {"field": "treatment", "type": "nominal", "scale": {"domain": ["Olyset nets alone", "PermaNet nets alone", "Icon Life nets alone", "Control (untreated nets only)"], "paddingInner": 0, "paddingOuter": 0.61}},
            "y": {"field": "pct", "type": "quantitative", "scale": {"domain": [0, 45], "nice": false}, "axis": {"title": "Percentage of exiting Anopheles arabiensis", "values": [0, 5, 10, 15, 20, 25, 30, 35, 40, 45]}}
          },
          "layer": [
            {"mark": {"type": "bar"}, "encoding": {"fill": {"field": "treatment", "type": "nominal", "scale": {"domain": ["Olyset nets alone", "PermaNet nets alone", "Icon Life nets alone", "Control (untreated nets only)"], "range": ["#c0c0c0", "#cfe3cf", "#9a9a9a", "#262626"]}, "legend": {"title": null, "orient": "none", "legendX": 13, "legendY": 22, "rowPadding": 20, "labelFontSize": 11.5, "labelExpr": "datum.label == 'Control (untreated nets only)' ? ['Control (untreated nets', 'only)'] : datum.label", "encode": {"labels": {"update": {"lineHeight": {"value": 15}}}}}}}},
            {"transform": [{"filter": "indexof(datum.treatment, 'PermaNet') >= 0"}], "mark": {"type": "bar", "fill": {"gradient": "linear", "x1": 0, "y1": 0, "x2": 1, "y2": 0, "stops": [
              {"offset": 0, "color": "#e4efe4"}, {"offset": 0.14, "color": "#e4efe4"}, {"offset": 0.14, "color": "#3d7c48"}, {"offset": 0.195, "color": "#3d7c48"},
              {"offset": 0.195, "color": "#e4efe4"}, {"offset": 0.335, "color": "#e4efe4"}, {"offset": 0.335, "color": "#3d7c48"}, {"offset": 0.39, "color": "#3d7c48"},
              {"offset": 0.39, "color": "#e4efe4"}, {"offset": 0.53, "color": "#e4efe4"}, {"offset": 0.53, "color": "#3d7c48"}, {"offset": 0.585, "color": "#3d7c48"},
              {"offset": 0.585, "color": "#e4efe4"}, {"offset": 0.725, "color": "#e4efe4"}, {"offset": 0.725, "color": "#3d7c48"}, {"offset": 0.78, "color": "#3d7c48"},
              {"offset": 0.78, "color": "#e4efe4"}, {"offset": 0.92, "color": "#e4efe4"}, {"offset": 0.92, "color": "#3d7c48"}, {"offset": 0.975, "color": "#3d7c48"},
              {"offset": 0.975, "color": "#e4efe4"}, {"offset": 1, "color": "#e4efe4"}]}}},
            {"transform": [{"filter": "indexof(datum.treatment, 'Icon Life') >= 0"}], "mark": {"type": "bar", "fill": {"gradient": "linear", "x1": 0, "y1": 4, "x2": 1, "y2": 0, "stops": [
              {"offset": 0, "color": "#ffffff"},
              {"offset": 0.7075, "color": "#ffffff"}, {"offset": 0.7075, "color": "#333333"}, {"offset": 0.712, "color": "#333333"}, {"offset": 0.712, "color": "#ffffff"},
              {"offset": 0.7195, "color": "#ffffff"}, {"offset": 0.7195, "color": "#333333"}, {"offset": 0.724, "color": "#333333"}, {"offset": 0.724, "color": "#ffffff"},
              {"offset": 0.7315, "color": "#ffffff"}, {"offset": 0.7315, "color": "#333333"}, {"offset": 0.736, "color": "#333333"}, {"offset": 0.736, "color": "#ffffff"},
              {"offset": 0.7435, "color": "#ffffff"}, {"offset": 0.7435, "color": "#333333"}, {"offset": 0.748, "color": "#333333"}, {"offset": 0.748, "color": "#ffffff"},
              {"offset": 0.7555, "color": "#ffffff"}, {"offset": 0.7555, "color": "#333333"}, {"offset": 0.76, "color": "#333333"}, {"offset": 0.76, "color": "#ffffff"},
              {"offset": 0.7675, "color": "#ffffff"}, {"offset": 0.7675, "color": "#333333"}, {"offset": 0.772, "color": "#333333"}, {"offset": 0.772, "color": "#ffffff"},
              {"offset": 0.7795, "color": "#ffffff"}, {"offset": 0.7795, "color": "#333333"}, {"offset": 0.784, "color": "#333333"}, {"offset": 0.784, "color": "#ffffff"},
              {"offset": 0.7915, "color": "#ffffff"}, {"offset": 0.7915, "color": "#333333"}, {"offset": 0.796, "color": "#333333"}, {"offset": 0.796, "color": "#ffffff"},
              {"offset": 0.8035, "color": "#ffffff"}, {"offset": 0.8035, "color": "#333333"}, {"offset": 0.808, "color": "#333333"}, {"offset": 0.808, "color": "#ffffff"},
              {"offset": 0.8155, "color": "#ffffff"}, {"offset": 0.8155, "color": "#333333"}, {"offset": 0.82, "color": "#333333"}, {"offset": 0.82, "color": "#ffffff"},
              {"offset": 0.8275, "color": "#ffffff"}, {"offset": 0.8275, "color": "#333333"}, {"offset": 0.832, "color": "#333333"}, {"offset": 0.832, "color": "#ffffff"},
              {"offset": 0.8395, "color": "#ffffff"}, {"offset": 0.8395, "color": "#333333"}, {"offset": 0.844, "color": "#333333"}, {"offset": 0.844, "color": "#ffffff"},
              {"offset": 0.8515, "color": "#ffffff"}, {"offset": 0.8515, "color": "#333333"}, {"offset": 0.856, "color": "#333333"}, {"offset": 0.856, "color": "#ffffff"},
              {"offset": 0.8635, "color": "#ffffff"}, {"offset": 0.8635, "color": "#333333"}, {"offset": 0.868, "color": "#333333"}, {"offset": 0.868, "color": "#ffffff"},
              {"offset": 0.8755, "color": "#ffffff"}, {"offset": 0.8755, "color": "#333333"}, {"offset": 0.88, "color": "#333333"}, {"offset": 0.88, "color": "#ffffff"},
              {"offset": 0.8875, "color": "#ffffff"}, {"offset": 0.8875, "color": "#333333"}, {"offset": 0.892, "color": "#333333"}, {"offset": 0.892, "color": "#ffffff"},
              {"offset": 0.8995, "color": "#ffffff"}, {"offset": 0.8995, "color": "#333333"}, {"offset": 0.904, "color": "#333333"}, {"offset": 0.904, "color": "#ffffff"},
              {"offset": 0.9115, "color": "#ffffff"}, {"offset": 0.9115, "color": "#333333"}, {"offset": 0.916, "color": "#333333"}, {"offset": 0.916, "color": "#ffffff"},
              {"offset": 0.9235, "color": "#ffffff"}, {"offset": 0.9235, "color": "#333333"}, {"offset": 0.928, "color": "#333333"}, {"offset": 0.928, "color": "#ffffff"},
              {"offset": 0.9355, "color": "#ffffff"}, {"offset": 0.9355, "color": "#333333"}, {"offset": 0.94, "color": "#333333"}, {"offset": 0.94, "color": "#ffffff"},
              {"offset": 0.9475, "color": "#ffffff"}, {"offset": 0.9475, "color": "#333333"}, {"offset": 0.952, "color": "#333333"}, {"offset": 0.952, "color": "#ffffff"},
              {"offset": 0.9595, "color": "#ffffff"}, {"offset": 0.9595, "color": "#333333"}, {"offset": 0.964, "color": "#333333"}, {"offset": 0.964, "color": "#ffffff"},
              {"offset": 0.9715, "color": "#ffffff"}, {"offset": 0.9715, "color": "#333333"}, {"offset": 0.976, "color": "#333333"}, {"offset": 0.976, "color": "#ffffff"},
              {"offset": 0.9835, "color": "#ffffff"}, {"offset": 0.9835, "color": "#333333"}, {"offset": 0.988, "color": "#333333"}, {"offset": 0.988, "color": "#ffffff"},
              {"offset": 0.9955, "color": "#ffffff"}, {"offset": 0.9955, "color": "#333333"}, {"offset": 1, "color": "#333333"}]}}},
            {"transform": [{"filter": "datum.sig == '**'"}], "mark": {"type": "text", "baseline": "bottom", "dy": -1, "fontSize": 12, "fontWeight": "bold", "color": "#111111"}, "encoding": {"text": {"field": "sig"}}}
          ]
        }
      ]
    }
  ]
}
